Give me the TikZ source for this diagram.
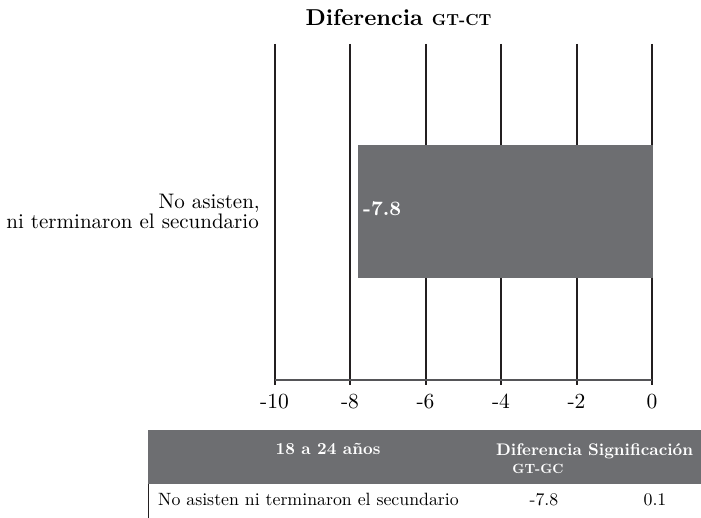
\documentclass[tikz,border=0pt]{standalone}
\usepackage{fontspec}
\setmainfont{lmroman10}[Extension=.otf, UprightFont=*-regular, BoldFont=*-bold, ItalicFont=*-italic, BoldItalicFont=*-bolditalic]
\definecolor{barGray}{RGB}{109,110,113}
\definecolor{gridBlack}{RGB}{35,31,32}
\definecolor{axisGray}{RGB}{85,85,88}
\newcommand\myfs[1]{\fontsize{#1}{#1}\selectfont}
\tikzset{
  gridline/.style={draw=gridBlack, line width=2pt},
  axisline/.style={draw=axisGray, line width=1.5pt},
  ticklab/.style={anchor=base, inner sep=0pt, font=\myfs{21.5}},
  catlab/.style={anchor=base east, inner sep=0pt, font=\myfs{21}},
  barlab/.style={anchor=base west, inner sep=0pt, text=white, font=\myfs{20.5}\bfseries},
  titlelab/.style={anchor=base, inner sep=0pt, font=\myfs{23}\bfseries},
  headlab/.style={anchor=base, inner sep=0pt, text=white, font=\myfs{16.8}\bfseries},
  rowlab/.style={anchor=base, inner sep=0pt, font=\myfs{17.8}},
}
\begin{document}
\begin{tikzpicture}[x=1pt,y=-1pt]
\useasboundingbox[fill=white] (0,0) rectangle (701,518);
% title
\node[titlelab] (title) at (398.5,26) {Diferencia {\myfs{16}GT-CT}};
% grid lines
\foreach \v in {-10,-8,-6,-4,-2,0}{
  \draw[gridline] ({652+37.75*\v},44) -- ({652+37.75*\v},385);
  \node[ticklab] (t\v) at ({652+37.75*\v},408) {\v};
}
% axis
\draw[axisline] (274.5,380) -- (652,380);
% bar
\fill[barGray] (357.6,145) rectangle (652.9,278.3);
\node[barlab] (barval) at (363,216) {-7.8};
% category label
\node[catlab] (cat1) at (260,209) {No asisten,};
\node[catlab] (cat2) at (259,228.5) {ni terminaron el secundario};
% table
\fill[barGray] (148.3,430) rectangle (710,484);
\draw[draw=gridBlack, line width=0.8pt] (148.3,484) -- (148.3,518);
\node[headlab] (h1) at (328,454) {18 a 24 años};
\node[headlab] (h2) at (539,455) {Diferencia};
\node[headlab, font=\myfs{13.4}\bfseries] (h2b) at (538,473) {GT-GC};
\node[headlab, anchor=base west] (h3) at (588,455) {Significación};
\node[rowlab, anchor=base west] (r1) at (158,505) {No asisten ni terminaron el secundario};
\node[rowlab] (r2) at (544,505) {-7.8};
\node[rowlab] (r3) at (655,505) {0.1};
\end{tikzpicture}
\end{document}
